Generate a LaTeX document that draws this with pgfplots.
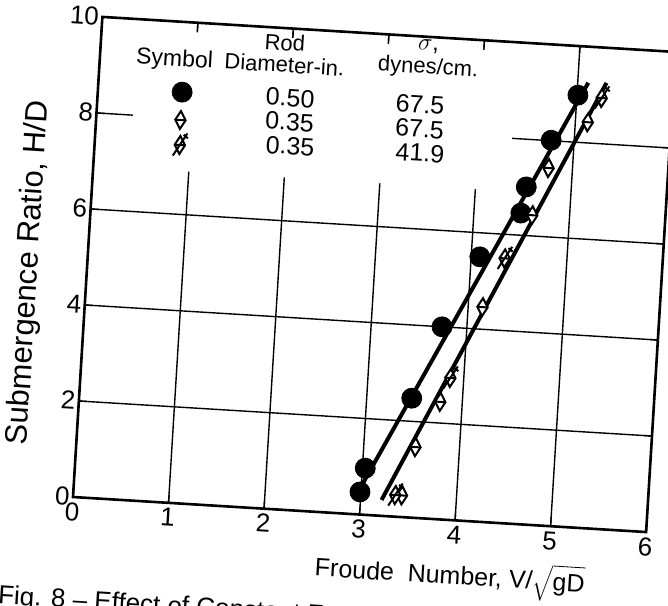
\documentclass[border=0pt]{standalone}
\usepackage{fontspec}
\setmainfont{Liberation Sans}
\usepackage{pgfplots}
\pgfplotsset{compat=1.18}

\pgfdeclareplotmark{bdiam}{%
  \pgfpathmoveto{\pgfqpoint{0pt}{4.5pt}}%
  \pgfpathlineto{\pgfqpoint{2.6pt}{0pt}}%
  \pgfpathlineto{\pgfqpoint{0pt}{-4.5pt}}%
  \pgfpathlineto{\pgfqpoint{-2.6pt}{0pt}}%
  \pgfpathclose
  \pgfusepathqfillstroke
  \pgfpathmoveto{\pgfqpoint{-2.6pt}{0pt}}%
  \pgfpathlineto{\pgfqpoint{2.6pt}{0pt}}%
  \pgfusepathqstroke
}
\pgfdeclareplotmark{xdiam}{%
  \pgfpathmoveto{\pgfqpoint{0pt}{4.5pt}}%
  \pgfpathlineto{\pgfqpoint{2.6pt}{0pt}}%
  \pgfpathlineto{\pgfqpoint{0pt}{-4.5pt}}%
  \pgfpathlineto{\pgfqpoint{-2.6pt}{0pt}}%
  \pgfpathclose
  \pgfusepathqfillstroke
  \pgfpathmoveto{\pgfqpoint{-2.6pt}{0pt}}%
  \pgfpathlineto{\pgfqpoint{2.6pt}{0pt}}%
  \pgfpathmoveto{\pgfqpoint{-3.2pt}{-5.5pt}}%
  \pgfpathlineto{\pgfqpoint{3.4pt}{6pt}}%
  \pgfpathmoveto{\pgfqpoint{1.6pt}{5.2pt}}%
  \pgfpathlineto{\pgfqpoint{3.8pt}{3.6pt}}%
  \pgfusepathqstroke
}

\begin{document}
\begin{tikzpicture}
\useasboundingbox (-36.5pt,-54pt) rectangle (297.5pt,248.5pt);
\begin{scope}[rotate=-3.5, transform shape]
\begin{axis}[
  anchor=origin, at={(0pt,0pt)},
  x=47.85pt, y=24.05pt,
  xmin=0, xmax=6, ymin=0, ymax=10,
  xtick={0,1,2,3,4,5,6}, ytick={0,2,4,6,8,10},
  grid=major,
  major grid style={black, line width=0.7pt},
  axis line style={black, line width=1.3pt},
  tick align=inside, tick pos=both, major tick length=4pt,
  tick style={black, line width=0.7pt},
  ticklabel style={font=\fontsize{13}{14}\selectfont, inner sep=1.5pt},
  xticklabel style={yshift=-1pt},
  /pgf/number format/assume math mode=true,
  clip=false,
]
% white area behind the key
\fill[white] (axis cs:0.38,6.9) rectangle (axis cs:4.35,9.8);

% fitted lines
\addplot[black, line width=2pt] coordinates {(2.99,0.55) (5.11,9.25)};
\addplot[black, line width=2pt] coordinates {(3.22,0.33) (5.30,9.27)};

% D = 0.50 in, sigma = 67.5
\addplot[only marks, mark=*, mark size=5pt, black] coordinates {
  (2.99,0.47) (3.03,0.97) (3.47,2.48) (3.74,4.00) (4.09,5.50)
  (4.49,6.46) (4.53,7.01) (4.76,8.01) (5.01,8.98)
};
% D = 0.35 in, sigma = 67.5
\addplot[only marks, mark=bdiam, black, line width=1pt, mark options={fill=white}] coordinates {
  (3.43,0.45) (3.54,1.47) (3.77,2.44) (4.15,4.46) (4.61,6.43)
  (4.75,7.43) (5.13,8.43)
};
% D = 0.35 in, sigma = 41.9
\addplot[only marks, mark=xdiam, black, line width=1pt, mark options={fill=white}] coordinates {
  (3.36,0.45) (3.86,2.95) (4.35,5.50) (5.26,8.95)
};

% key symbols
\addplot[only marks, mark=*, mark size=5pt, black] coordinates {(0.88,8.54)};
\addplot[only marks, mark=bdiam, black, line width=1pt, mark options={fill=white}] coordinates {(0.88,7.96)};
\addplot[only marks, mark=xdiam, black, line width=1pt, mark options={fill=white}] coordinates {(0.89,7.44)};

% key text
\begin{scope}[every node/.style={inner sep=0pt}]
\node[font=\fontsize{11.5}{12}\selectfont] at (axis cs:0.78,9.2) {Symbol};
\node[font=\fontsize{11}{12}\selectfont] at (axis cs:1.92,9.70) {Rod};
\node[font=\fontsize{11}{12}\selectfont] at (axis cs:1.93,9.24) {Diameter-in.};
\node[font=\fontsize{12}{12}\selectfont] at (axis cs:3.42,9.8) {$\sigma$,};
\node[font=\fontsize{11}{12}\selectfont] at (axis cs:3.43,9.35) {dynes/cm.};
\node[font=\fontsize{12.5}{13}\selectfont] at (axis cs:2.01,8.56) {0.50};
\node[font=\fontsize{12.5}{13}\selectfont] at (axis cs:3.37,8.58) {67.5};
\node[font=\fontsize{12.5}{13}\selectfont] at (axis cs:2.02,8.06) {0.35};
\node[font=\fontsize{12.5}{13}\selectfont] at (axis cs:3.38,8.08) {67.5};
\node[font=\fontsize{12.5}{13}\selectfont] at (axis cs:2.04,7.56) {0.35};
\node[font=\fontsize{12.5}{13}\selectfont] at (axis cs:3.40,7.58) {41.9};

% axis titles
\node[rotate=90, font=\fontsize{15.5}{16}\selectfont] at (axis cs:-0.60,4.6) {Submergence Ratio, H/D};
\node[font=\fontsize{12.5}{14}\selectfont] at (axis cs:3.98,-1.18) {Froude\ \ Number, V/$\sqrt{\mbox{gD}}$};

% caption (cut by the page edge, as in the scan)
\node[anchor=base west, font=\fontsize{13}{14}\selectfont] at (axis cs:-0.72,-2.31) {Fig. 8 -- Effect of Constant Froude Number};
\end{scope}
\end{axis}
\end{scope}
\end{tikzpicture}
\end{document}
